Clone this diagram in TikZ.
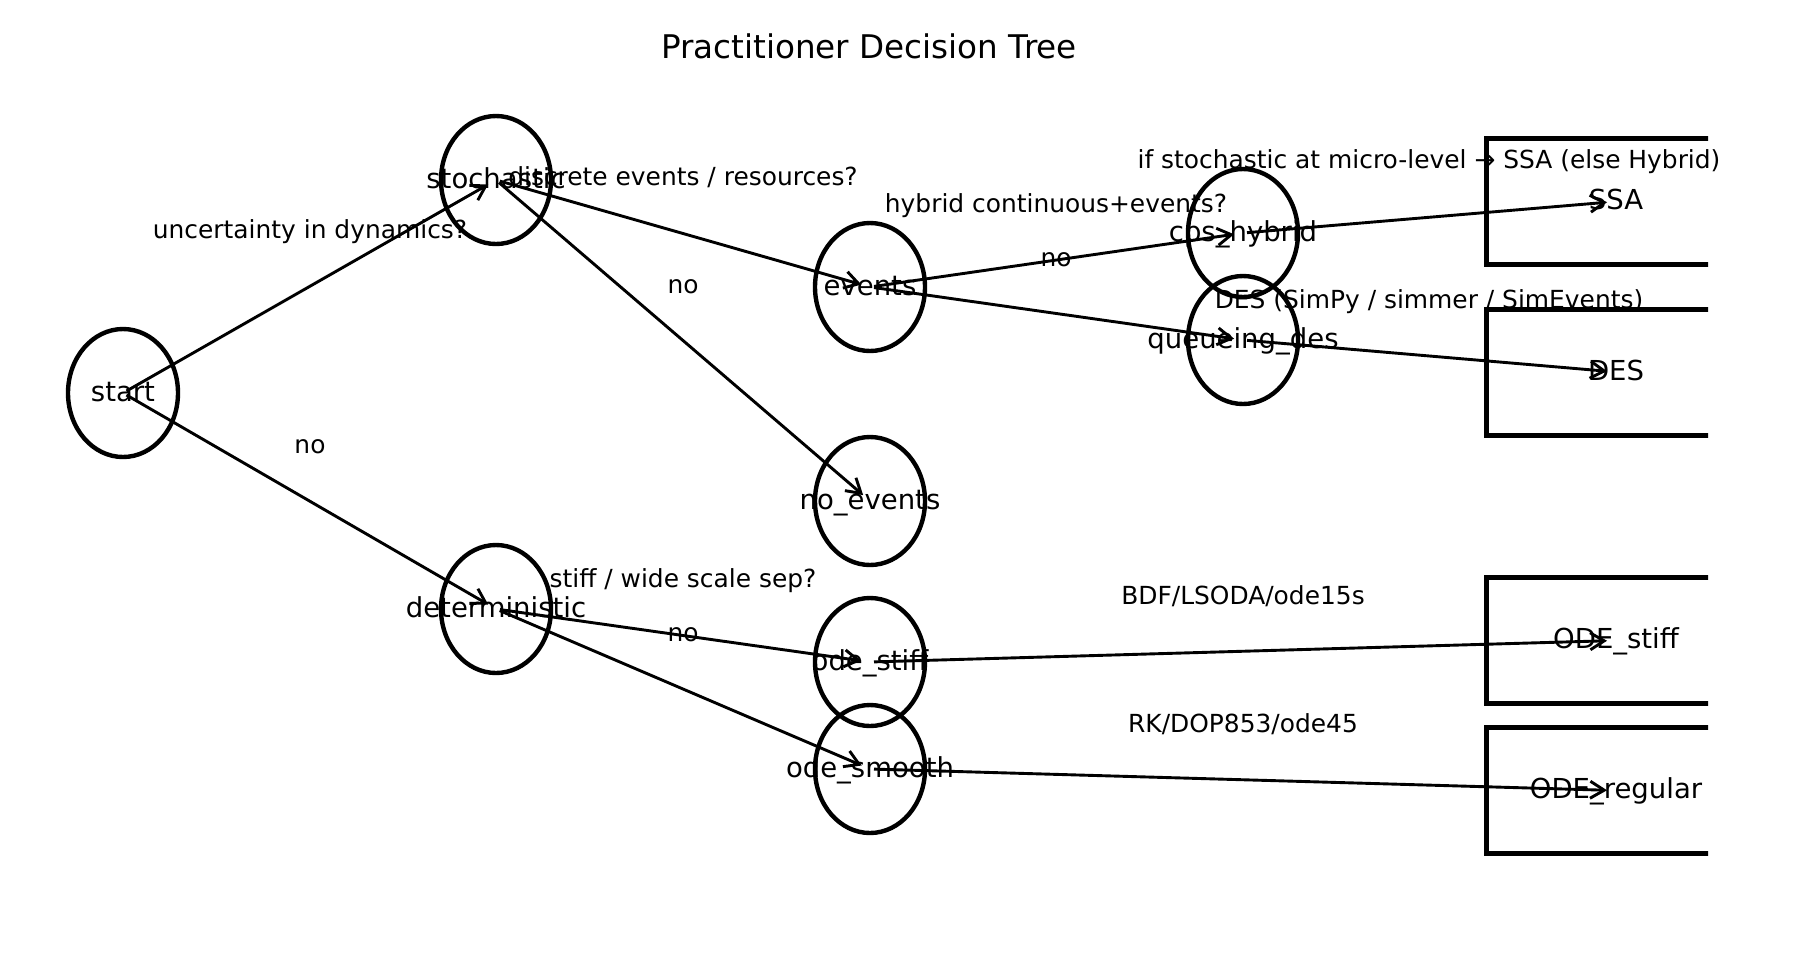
\documentclass[tikz,border=0pt]{standalone}
\usepackage{fontspec}
\setmainfont{DejaVu Sans}
\usetikzlibrary{shapes.geometric,arrows.meta}
\begin{document}
\begin{tikzpicture}[x=0.5pt,y=-0.5pt,
  nodefont/.style={font=\fontsize{13.75pt}{16pt}\selectfont},
  ell/.style={ellipse,draw,line width=2.2pt,minimum width=55pt,minimum height=64pt,
    inner sep=0pt,nodefont,text height=0.9em,text depth=0.1em},
  resbox/.style={rectangle,draw,line width=2.5pt,minimum width=130pt,minimum height=63pt,
    inner sep=0pt,nodefont,text height=0.9em,text depth=0.1em},
  elab/.style={font=\fontsize{12.45pt}{15pt}\selectfont,inner sep=0pt,
    text height=0.9em,text depth=0.1em},
  edge/.style={line width=1.45pt,-{Straight Barb[length=7pt,width=8.5pt]},
    shorten >=4.5pt,shorten <=2pt}]
\useasboundingbox (0,0) rectangle (1800,960);

\node[font=\fontsize{16.3pt}{20pt}\selectfont] (title) at (869,46) {Practitioner Decision Tree};

% decision nodes
\node[ell] (start) at (123,393) {\makebox[0pt]{start}};
\node[ell] (stochastic) at (496,180) {\makebox[0pt]{stochastic}};
\node[ell] (deterministic) at (496,609) {\makebox[0pt]{deterministic}};
\node[ell] (events) at (870,287) {\makebox[0pt]{events}};
\node[ell] (noevents) at (870,501) {\makebox[0pt]{no\_events}};
\node[ell] (odestiff) at (870,662) {\makebox[0pt]{ode\_stiff}};
\node[ell] (odesmooth) at (870,769) {\makebox[0pt]{ode\_smooth}};
\node[ell] (cpshybrid) at (1243,233) {\makebox[0pt]{cps\_hybrid}};
\node[ell] (queueing) at (1243,340) {\makebox[0pt]{queueing\_des}};

% result boxes (clipped at the plot edge)
\begin{scope}
\clip (0,0) rectangle (1708,960);
\node[resbox] (SSA) at (1616,201.5) {SSA};
\node[resbox] (DES) at (1616,372) {DES};
\node[resbox] (ODEstiff) at (1616,640.5) {ODE\_stiff};
\node[resbox] (ODEregular) at (1616,790.5) {ODE\_regular};
\end{scope}

% edges
\draw[edge] (start.center) -- (stochastic.center);
\draw[edge] (start.center) -- (deterministic.center);
\draw[edge] (stochastic.center) -- (events.center);
\draw[edge] (stochastic.center) -- (noevents.center);
\draw[edge] (events.center) -- (cpshybrid.center);
\draw[edge] (events.center) -- (queueing.center);
\draw[edge] (cpshybrid.center) -- (SSA.center);
\draw[edge] (queueing.center) -- (DES.center);
\draw[edge] (deterministic.center) -- (odestiff.center);
\draw[edge] (deterministic.center) -- (odesmooth.center);
\draw[edge] (odestiff.center) -- (ODEstiff.center);
\draw[edge] (odesmooth.center) -- (ODEregular.center);

% edge labels
\node[elab] (l1) at (310,230) {uncertainty in dynamics?};
\node[elab] (l2) at (310,445) {no};
\node[elab] (l3) at (683,177) {discrete events / resources?};
\node[elab] (l4) at (683,285) {no};
\node[elab] (l5) at (1056,204) {hybrid continuous+events?};
\node[elab] (l6) at (1056,258) {no};
\node[elab] (l7) at (1429,160) {if stochastic at micro-level → SSA (else Hybrid)};
\node[elab] (l8) at (1429,300) {DES (SimPy / simmer / SimEvents)};
\node[elab] (l9) at (683,579) {stiff / wide scale sep?};
\node[elab] (l10) at (683,633) {no};
\node[elab] (l11) at (1243,596) {BDF/LSODA/ode15s};
\node[elab] (l12) at (1243,724) {RK/DOP853/ode45};
\end{tikzpicture}
\end{document}
